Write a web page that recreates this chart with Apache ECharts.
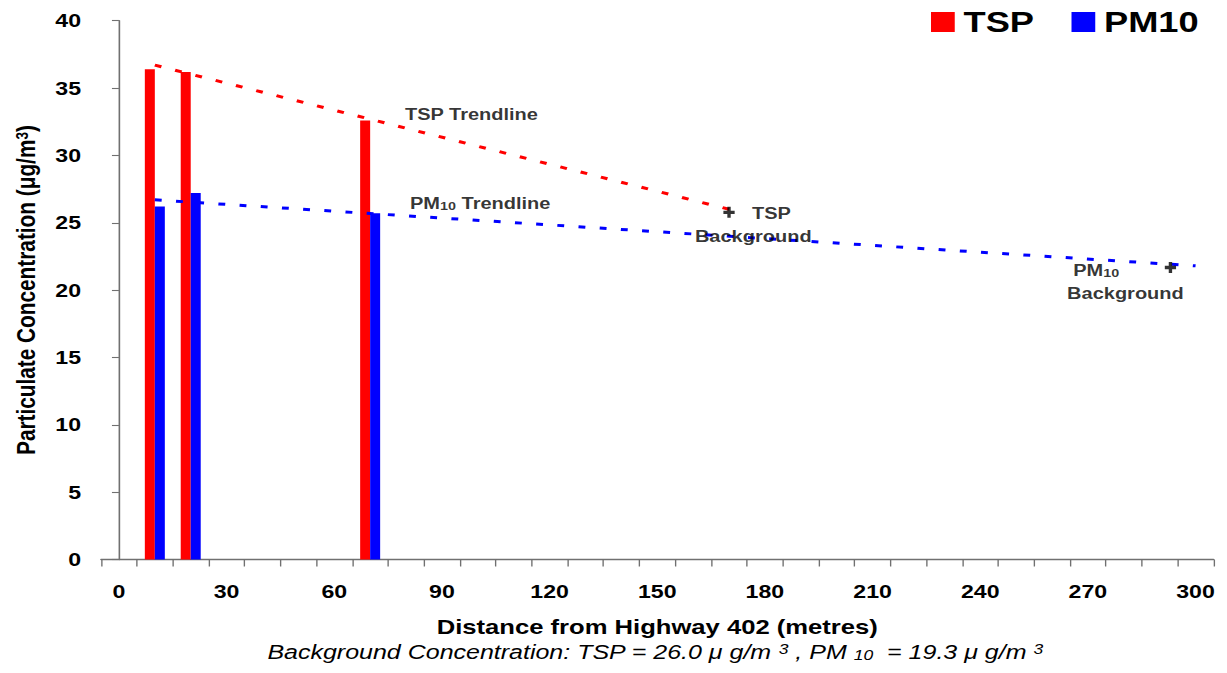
<!DOCTYPE html>
<html>
<head>
<meta charset="utf-8">
<script src="https://cdn.jsdelivr.net/npm/echarts@6/dist/echarts.min.js"></script>
<style>
  html, body { margin: 0; padding: 0; background: #fff; overflow: hidden; width: 1227px; height: 673px; }
  /* the chart is laid out narrower and widened horizontally, giving the wide lettering */
  #chart { width: 981.6px; height: 673px; transform: scaleX(1.25); transform-origin: 0 0; }
</style>
</head>
<body>
<div id="chart"></div>
<script>
// Particulate concentration by distance from Highway 402
const distances = [10, 20, 70];          // metres
const tspValues = [36.4, 36.2, 32.6];    // µg/m³
const pm10Values = [26.2, 27.2, 25.7];   // µg/m³

// Trendline end points and background markers [distance, concentration]
const tspTrend = [[10, 36.7], [170, 26.0]];
const pm10Trend = [[10, 26.7], [300, 21.8]];
const backgroundPoints = [[170, 26.0], [293, 21.9]];

// Axis ticks and labels
const xTickValues = [-5, 5, 15, 25, 35, 45, 55, 65, 75, 85, 95, 105, 115, 125, 135, 145, 155,
  165, 175, 185, 195, 205, 215, 225, 235, 245, 255, 265, 275, 285, 295, 305];
const xLabelValues = [0, 30, 60, 90, 120, 150, 180, 210, 240, 270, 300];
const yTickStep = 5;
const yMax = 40;

// Chart notes, anchored at their left edge in data coordinates
const noteTexts = ['TSP Trendline', '{b|PM}{s|10}{b| Trendline}', 'TSP', 'Background', '{b|PM}{s|10}', 'Background'];
const noteAnchors = [[79.7, 33.0], [81.1, 26.4], [176.4, 25.7], [160.5, 24.0], [265.9, 21.45], [264.2, 19.7]];

const FONT = "'Liberation Sans', Arial, Helvetica, sans-serif";
const AXIS_GREY = '#707070';

const chart = echarts.init(document.getElementById('chart'), null, { renderer: 'svg' });

const pairs = (xs, ys) => xs.map((x, i) => [x, ys[i]]);

chart.setOption({
  animation: false,
  backgroundColor: '#fff',
  textStyle: { fontFamily: FONT },
  grid: { left: 80.8, right: 11.2, top: 20.7, bottom: 113.5, containLabel: false, outerBoundsMode: 'none' },
  legend: {
    data: ['TSP', 'PM10'],
    left: 744.8, top: 7.5, padding: 0,
    icon: 'rect', itemWidth: 19, itemHeight: 20, itemGap: 30,
    textStyle: { fontFamily: FONT, fontSize: 29, fontWeight: 'bold', color: '#000', padding: [0, 0, 0, 2] },
    selectedMode: false
  },
  xAxis: {
    type: 'value', min: -5, max: 305, interval: 10,
    axisLine: { show: true, lineStyle: { color: AXIS_GREY, width: 1.3 } },
    axisTick: { show: true, length: 7, customValues: xTickValues, lineStyle: { color: AXIS_GREY, width: 1.1 } },
    axisLabel: { customValues: xLabelValues, margin: 22.5, color: '#000', fontFamily: FONT, fontSize: 18.5, fontWeight: 'bold' },
    splitLine: { show: false },
    name: 'Distance from Highway 402 (metres)',
    nameLocation: 'middle', nameGap: 57,
    nameTextStyle: { fontFamily: FONT, fontSize: 20.5, fontWeight: 'bold', color: '#000' }
  },
  yAxis: {
    type: 'value', min: 0, max: yMax, interval: yTickStep,
    axisLine: { show: true, lineStyle: { color: AXIS_GREY, width: 1.3 } },
    axisTick: { show: true, length: 5.6, lineStyle: { color: AXIS_GREY, width: 1.1 } },
    axisLabel: { margin: 16, color: '#000', fontFamily: FONT, fontSize: 18.5, fontWeight: 'bold' },
    splitLine: { show: false },
    name: 'Particulate Concentration (μg/m{sup|3})',
    nameLocation: 'middle', nameGap: 49,
    nameTextStyle: {
      fontFamily: FONT, fontSize: 20.8, fontWeight: 'bold', color: '#000',
      rich: { sup: { fontFamily: FONT, fontSize: 13.5, fontWeight: 'bold', color: '#000', verticalAlign: 'top', lineHeight: 8 } }
    }
  },
  series: [
    {
      name: 'TSP', type: 'bar', data: pairs(distances, tspValues),
      barWidth: 8, barGap: '0%', itemStyle: { color: '#ff0000' }, z: 2
    },
    {
      name: 'PM10', type: 'bar', data: pairs(distances, pm10Values),
      barWidth: 8, barGap: '0%', itemStyle: { color: '#0000ff' }, z: 2
    },
    {
      name: 'TSP Trendline', type: 'line', data: tspTrend, symbol: 'none', silent: true, z: 3,
      lineStyle: { color: '#ff0000', width: 3, type: [5.5, 11.5] }
    },
    {
      name: 'PM10 Trendline', type: 'line', data: pm10Trend, symbol: 'none', silent: true, z: 3,
      lineStyle: { color: '#0000ff', width: 3, type: [5.5, 11.5] }
    },
    {
      name: 'Background', type: 'scatter', data: backgroundPoints, silent: true, z: 4,
      symbol: 'path://M3.5,0H6.5V3.5H10V6.5H6.5V10H3.5V6.5H0V3.5H3.5Z',
      symbolSize: [9, 11], symbolOffset: [0, 3],
      itemStyle: { color: '#000' }
    },
    {
      name: 'Notes', type: 'scatter', silent: true, z: 5, symbolSize: 0,
      data: noteAnchors.map((p, i) => ({ value: p, text: noteTexts[i] })),
      label: {
        show: true, position: 'right', distance: 0,
        formatter: p => p.data.text,
        fontFamily: FONT, fontSize: 16, fontWeight: 'bold', color: '#000',
        rich: {
          b: { fontFamily: FONT, fontSize: 16, fontWeight: 'bold', color: '#000' },
          s: { fontFamily: FONT, fontSize: 11.5, fontWeight: 'bold', color: '#000', verticalAlign: 'bottom', lineHeight: 5 }
        }
      }
    }
  ],
  graphic: [
    {
      type: 'text', x: 524, y: 652, silent: true,
      style: {
        text: 'Background Concentration: TSP = 26.0 μ g/m {sup|3} , PM {sub|10}  = 19.3 μ g/m {sup|3}',
        align: 'center', verticalAlign: 'middle',
        fontFamily: FONT, fontSize: 20, fontStyle: 'italic', fill: '#000',
        rich: {
          sup: { fontFamily: FONT, fontSize: 14, fontStyle: 'italic', fill: '#000', verticalAlign: 'top', lineHeight: 6 },
          sub: { fontFamily: FONT, fontSize: 14, fontStyle: 'italic', fill: '#000', verticalAlign: 'bottom', lineHeight: 6 }
        }
      }
    }
  ]
});
</script>
</body>
</html>
